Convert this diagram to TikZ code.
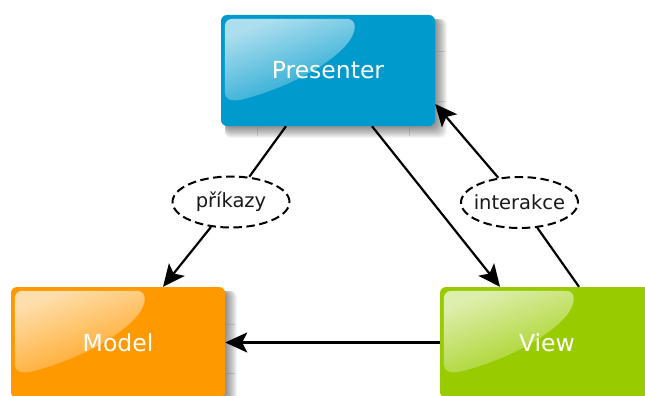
\documentclass[tikz,border=0pt]{standalone}
\usepackage{fontspec}
\setmainfont{DejaVu Sans}
\usetikzlibrary{arrows.meta,calc,shapes.geometric,fadings}

\definecolor{presblue}{RGB}{0,155,204}
\definecolor{modorange}{RGB}{255,153,0}
\definecolor{viewgreen}{RGB}{153,204,0}

\pgfdeclarelayer{background}
\pgfsetlayers{background,main}

% soft white sheen, strong at the top left, fading out downwards
\tikzfading[name=glossfade, top color=transparent!32, bottom color=transparent!90]

\tikzset{
  box/.style={rectangle, rounded corners=6pt, minimum width=214pt,
    minimum height=111pt, inner sep=0pt, fill=#1, text=white,
    font=\fontsize{23.5}{28}\selectfont},
  % fixed-size dashed ellipse; the label is boxed at zero width so the
  % outline keeps its given size
  tag/.style={ellipse, draw=black, line width=2pt,
    dash pattern=on 8.5pt off 4.5pt, fill=white, minimum width=117pt,
    minimum height=51pt, inner sep=0pt, text=black!90,
    font=\fontsize{19.5}{23}\selectfont},
  link/.style={draw=black, line width=2.2pt},
  flow/.style={link, -{Stealth[length=22pt,width=20pt,inset=5pt]}},
  % drop shadow falling to the lower right of a box
  dropshadow/.pic={
    \foreach \r in {1,...,12}
      \fill[black, opacity=0.042, rounded corners=6pt]
        (4,4) rectangle ({214+\r},{111+\r});
    \draw[gray, opacity=0.35, line width=0.6pt]
      (36,111) -- (36,121)  (188,111) -- (188,121)
      (214,37) -- (224,37)  (214,86) -- (224,86);
  },
  % glossy highlight in the upper left part of a box
  gloss/.pic={
    \fill[white, path fading=glossfade, fading angle=30]
      (4,12) .. controls (4,7) and (7,4) .. (12,4) -- (126,4)
      .. controls (131,4) and (134,7) .. (134,12)
      .. controls (134,35) and (80,70) .. (20,85)
      .. controls (10,87) and (4,84) .. (4,78) -- cycle;
  }
}

\begin{document}
\begin{tikzpicture}[x=1pt, y=-1pt]
  \useasboundingbox (0,0) rectangle (645,396);

  % the three parts
  \node[box=presblue]  (P) at (328,70.5)  {Presenter};
  \node[box=modorange] (M) at (118,342.5) {Model};
  \node[box=viewgreen] (V) at (547,342.5) {View};

  \begin{pgfonlayer}{background}
    \fill[white] (0,0) rectangle (645,396);
    \pic at (P.north west) {dropshadow};
    \pic at (M.north west) {dropshadow};
    \pic at (V.north west) {dropshadow};
  \end{pgfonlayer}

  \pic at (P.north west) {gloss};
  \pic at (M.north west) {gloss};
  \pic at (V.north west) {gloss};

  % labelled links
  \node[tag] (K) at (231,202)     {\makebox[0pt]{příkazy}};
  \node[tag] (I) at (519.5,202.5) {\makebox[0pt]{interakce}};

  \draw[link] ($(P.south)+(-42,0)$) -- (K);
  \draw[flow] (K) -- ($(M.north)+(45,0)$);
  \draw[flow] ($(P.south)+(44,0)$) -- ($(V.north)+(-47,0)$);
  \draw[link] ($(V.north)+(32,0)$) -- (I);
  \draw[flow] (I) -- ($(P.east)+(0,33.5)$);
  \draw[flow] (V.west) -- (M.east);
\end{tikzpicture}
\end{document}
